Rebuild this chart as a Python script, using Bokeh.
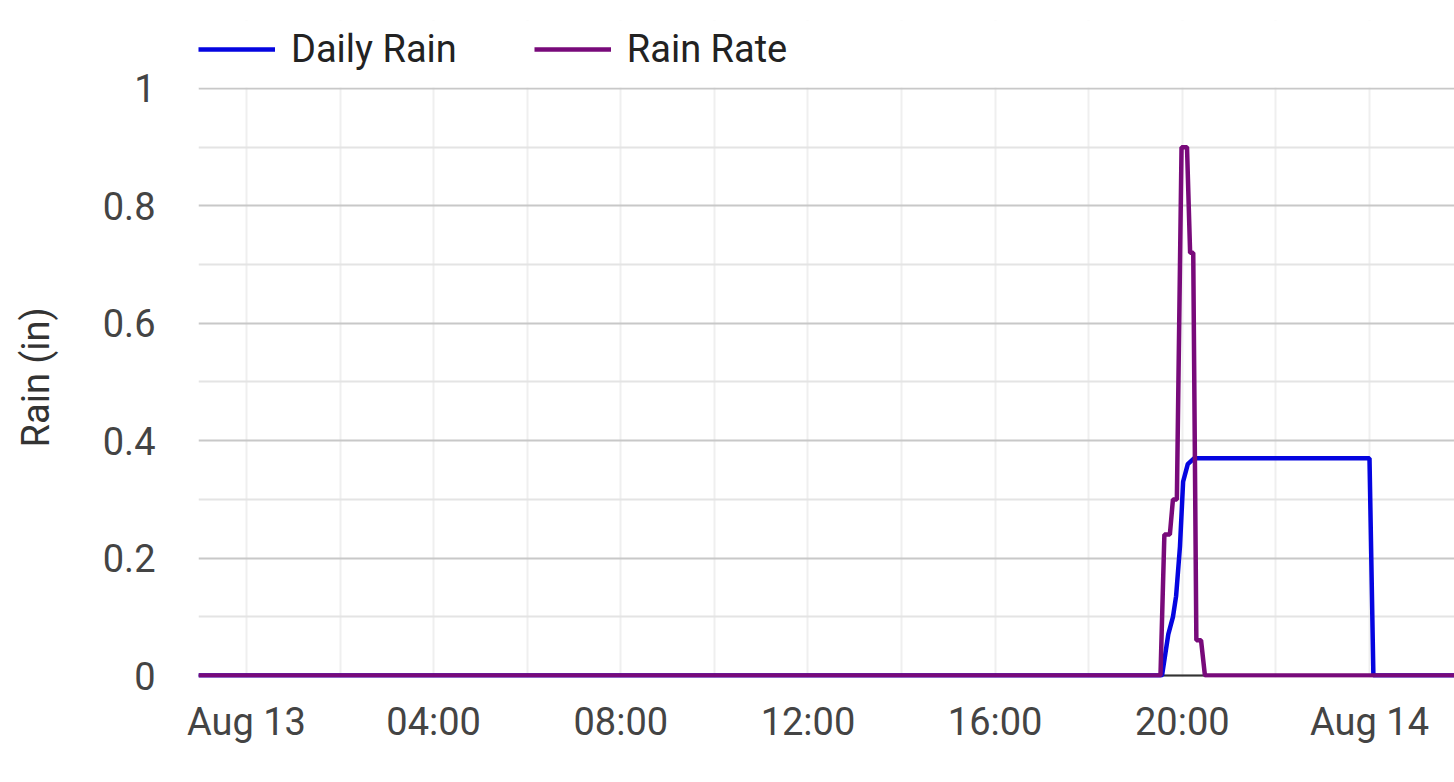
import pandas as pd
from bokeh.plotting import figure
from bokeh.models import Range1d, FixedTicker, Span, Legend, LegendItem, BoxAnnotation
from bokeh.embed import file_html
from bokeh.resources import INLINE

# ---- data ----
rain_times = ["2024-08-12 22:58:30", "2024-08-13 19:34:00", "2024-08-13 19:42:00",
              "2024-08-13 19:48:00", "2024-08-13 19:52:00", "2024-08-13 19:57:00",
              "2024-08-13 20:01:00", "2024-08-13 20:07:00", "2024-08-13 20:15:00",
              "2024-08-14 00:00:00", "2024-08-14 00:05:00", "2024-08-14 01:49:00"]
rain_values = [0, 0, 0.07, 0.10, 0.135, 0.22, 0.33, 0.36, 0.37, 0.37, 0, 0]

rate_times = ["2024-08-12 22:58:30", "2024-08-13 19:32:00", "2024-08-13 19:37:00",
              "2024-08-13 19:44:00", "2024-08-13 19:48:00", "2024-08-13 19:53:00",
              "2024-08-13 19:59:00", "2024-08-13 20:06:00", "2024-08-13 20:10:00",
              "2024-08-13 20:14:00", "2024-08-13 20:18:00", "2024-08-13 20:24:00",
              "2024-08-13 20:29:00", "2024-08-14 01:49:00"]
rate_values = [0, 0, 0.24, 0.24, 0.30, 0.30, 0.90, 0.90, 0.72, 0.72, 0.06, 0.06, 0, 0]

series_names = ["Daily Rain", "Rain Rate"]
y_title = "Rain (in)"

x_tick_times = ["2024-08-13 00:00:00", "2024-08-13 04:00:00", "2024-08-13 08:00:00",
                "2024-08-13 12:00:00", "2024-08-13 16:00:00", "2024-08-13 20:00:00",
                "2024-08-14 00:00:00"]
x_tick_labels = ["Aug 13", "04:00", "08:00", "12:00", "16:00", "20:00", "Aug 14"]
x_minor_times = ["2024-08-13 02:00:00", "2024-08-13 06:00:00", "2024-08-13 10:00:00",
                 "2024-08-13 14:00:00", "2024-08-13 18:00:00", "2024-08-13 22:00:00"]

y_ticks = [0.0, 0.2, 0.4, 0.6, 0.8, 1.0]
y_tick_labels = ["0", "0.2", "0.4", "0.6", "0.8", "1"]
y_minor = [0.1, 0.3, 0.5, 0.7, 0.9]
y_axis_span = (0.0, 1.0)


def ms(t):
    return pd.Timestamp(t).value / 1e6


def dt(ts):
    return pd.to_datetime(ts, format="%Y-%m-%d %H:%M:%S")


FONT = "Roboto"

# frame reaches up to hold the legend; the value axis itself spans 0..1
p = figure(
    x_axis_type="datetime",
    width=1454, height=777,
    min_border_left=198, min_border_right=0,
    min_border_top=20, min_border_bottom=100,
    x_range=Range1d(ms(rate_times[0]), ms(rate_times[-1])),
    y_range=Range1d(-0.0034, 1.1158),
    output_backend="svg", toolbar_location=None,
)
p.outline_line_color = None
p.background_fill_color = "white"
p.border_fill_color = "white"

# grids
p.xgrid.grid_line_color = "#efefef"
p.xgrid.grid_line_width = 2
p.xgrid.minor_grid_line_color = "#efefef"
p.xgrid.minor_grid_line_width = 2
p.ygrid.grid_line_color = "#c8c8c8"
p.ygrid.grid_line_width = 2.2
p.ygrid.minor_grid_line_color = "#e4e4e4"
p.ygrid.minor_grid_line_width = 2.2

# blank band above the value range (legend area)
p.add_layout(BoxAnnotation(bottom=y_axis_span[1] + 0.0018, fill_color="white",
                           fill_alpha=1, line_color=None, level="underlay"))

# baseline at zero
p.add_layout(Span(location=0, dimension="width", line_color="#333333",
                  line_width=2, level="underlay"))

# series
r1 = p.line(dt(rain_times), rain_values, line_color="#0505e0", line_width=4.5)
r2 = p.line(dt(rate_times), rate_values, line_color="#780a7a", line_width=4.5)

# axes
xt = [ms(t) for t in x_tick_times]
p.xaxis.ticker = FixedTicker(ticks=xt, minor_ticks=[ms(t) for t in x_minor_times])
p.xaxis.major_label_overrides = dict(zip(xt, x_tick_labels))
p.yaxis.ticker = FixedTicker(ticks=y_ticks, minor_ticks=y_minor)
p.yaxis.major_label_overrides = dict(zip(y_ticks, y_tick_labels))
p.yaxis.bounds = y_axis_span

for ax in (p.xaxis[0], p.yaxis[0]):
    ax.axis_line_color = None
    ax.major_tick_line_color = None
    ax.minor_tick_line_color = None
    ax.major_tick_out = 0
    ax.major_tick_in = 0
    ax.major_label_text_font = FONT
    ax.major_label_text_font_size = "38px"
    ax.major_label_text_color = "#444444"

p.xaxis.major_label_standoff = 18
p.yaxis.major_label_standoff = 39
# trailing no-break spaces centre the title on the 0..1 part of the axis
p.yaxis.axis_label = y_title + "\u00a0" * 6
p.yaxis.axis_label_text_font = FONT
p.yaxis.axis_label_text_font_size = "38px"
p.yaxis.axis_label_text_font_style = "normal"
p.yaxis.axis_label_text_color = "#333333"
p.yaxis.axis_label_standoff = 42

legend = Legend(
    items=[LegendItem(label=series_names[0], renderers=[r1]),
           LegendItem(label=series_names[1], renderers=[r2])],
    orientation="horizontal", location="top_left",
    glyph_width=77, glyph_height=58, label_standoff=16, spacing=77,
    padding=0, margin=0, border_line_color=None, background_fill_alpha=0,
    label_text_font=FONT, label_text_font_size="38px", label_text_color="#222222",
)
p.add_layout(legend)

open("out.html", "w").write(file_html(p, INLINE))
